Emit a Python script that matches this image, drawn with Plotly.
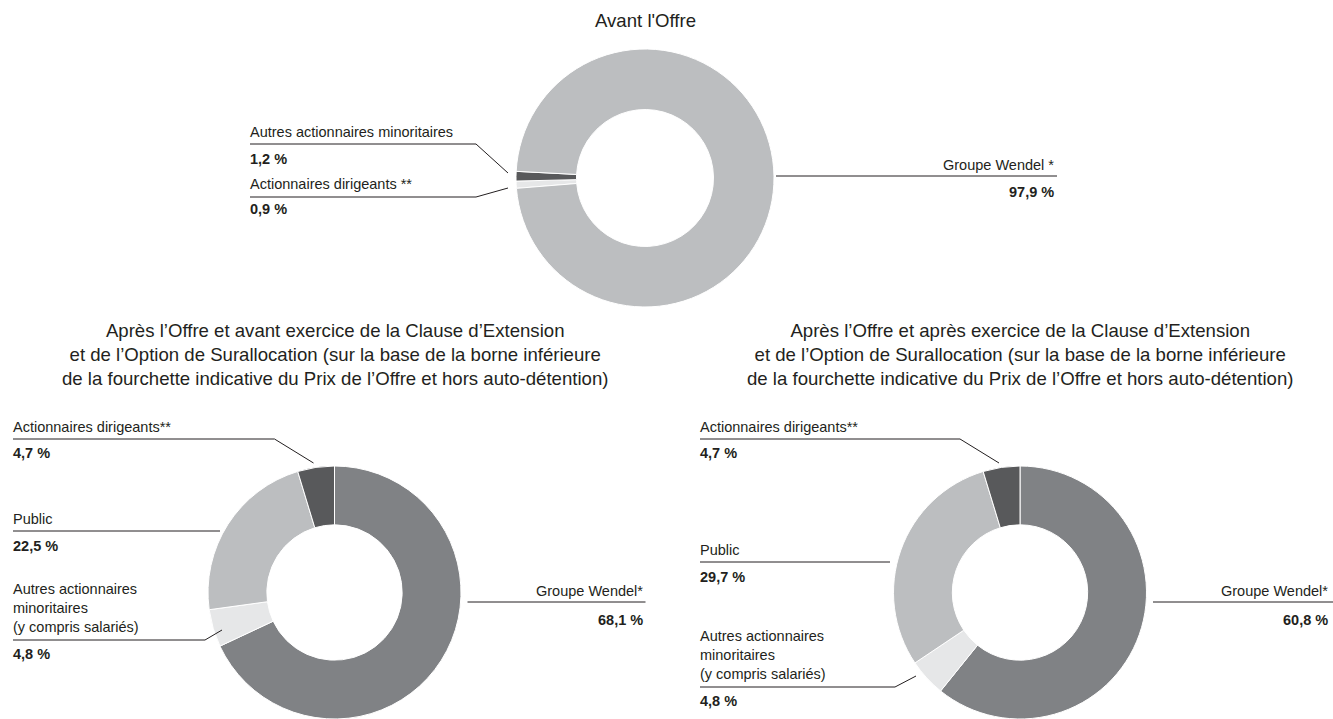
import plotly.graph_objects as go

W, H = 1333, 719

# données
avant_labels = ["Actionnaires dirigeants **", "Autres actionnaires minoritaires", "Groupe Wendel *"]
avant_values = [0.9, 1.2, 97.9]
avant_colors = ["#e6e7e8", "#58595b", "#bcbec0"]

apres_labels = ["Groupe Wendel*", "Autres actionnaires<br>minoritaires<br>(y compris salariés)",
                "Public", "Actionnaires dirigeants**"]
apres_sans_ext_values = [68.1, 4.8, 22.5, 4.7]
apres_avec_ext_values = [60.8, 4.8, 29.7, 4.7]
apres_colors = ["#808285", "#e6e7e8", "#bcbec0", "#58595b"]

titles = [
    "Avant l'Offre",
    "Après l’Offre et avant exercice de la Clause d’Extension<br>"
    "et de l’Option de Surallocation (sur la base de la borne inférieure<br>"
    "de la fourchette indicative du Prix de l’Offre et hors auto-détention)",
    "Après l’Offre et après exercice de la Clause d’Extension<br>"
    "et de l’Option de Surallocation (sur la base de la borne inférieure<br>"
    "de la fourchette indicative du Prix de l’Offre et hors auto-détention)",
]

FONT = "Liberation Sans, Arial, Helvetica, sans-serif"
INK = "#231f20"


# page pixels -> paper coords
def px(x):
    return x / W


def py(y):
    return 1 - y / H


def pct(v):
    return f"{v:.1f}".replace(".", ",") + " %"


fig = go.Figure()

fig.add_trace(go.Pie(
    labels=avant_labels, values=avant_values, sort=False, direction="clockwise",
    rotation=265.4, hole=0.531, textinfo="none", hoverinfo="none",
    marker=dict(colors=avant_colors, line=dict(color="white", width=1)),
    domain=dict(x=[px(645 - 129), px(645 + 129)], y=[py(178 + 129), py(178 - 129)]),
    showlegend=False,
))
fig.add_trace(go.Pie(
    labels=apres_labels, values=apres_sans_ext_values, sort=False, direction="clockwise",
    rotation=0, hole=0.535, textinfo="none", hoverinfo="none",
    marker=dict(colors=apres_colors, line=dict(color="white", width=1)),
    domain=dict(x=[px(334.5 - 126.5), px(334.5 + 126.5)], y=[0, 253 / H]),
    showlegend=False,
))
fig.add_trace(go.Pie(
    labels=apres_labels, values=apres_avec_ext_values, sort=False, direction="clockwise",
    rotation=0, hole=0.535, textinfo="none", hoverinfo="none",
    marker=dict(colors=apres_colors, line=dict(color="white", width=1)),
    domain=dict(x=[px(1020 - 126.5), px(1020 + 126.5)], y=[0, 253 / H]),
    showlegend=False,
))

annotations = []
shapes = []


def label(text, x, y, anchor="left", bold=False, size=14.5):
    annotations.append(dict(
        text=f"<b>{text}</b>" if bold else text, x=px(x), y=py(y),
        xref="paper", yref="paper", xanchor=anchor, yanchor="middle",
        showarrow=False, align=anchor,
        font=dict(family=FONT, size=size, color=INK),
    ))


def leader(points):
    path = "M " + " L ".join(f"{px(x)},{py(y)}" for x, y in points)
    shapes.append(dict(type="path", path=path, xref="paper", yref="paper",
                       line=dict(color=INK, width=1)))


# titres
label(titles[0], 645, 20, "center", size=18.6)
label(titles[1], 335, 355, "center", size=18.6)
label(titles[2], 1020, 355, "center", size=18.6)

# avant l'offre
label(avant_labels[1], 248, 132)
leader([(250, 144), (476, 144), (508, 173)])
label(pct(avant_values[1]), 248, 159, bold=True)
label(avant_labels[0], 248, 184)
leader([(250, 197), (476, 197), (508, 188)])
label(pct(avant_values[0]), 248, 209, bold=True)
label(avant_labels[2], 1056, 165, "right")
leader([(776, 176), (1057, 176)])
label(pct(avant_values[2]), 1056, 192, "right", bold=True)

# après l'offre, deux scénarios
for vals, x0, cx, y_pub, y_aut, x_pub, aut_end in [
    (apres_sans_ext_values, 11, 334.5, 531, 640, 220, (205, 222, 630)),
    (apres_avec_ext_values, 698, 1020, 562, 687, 890, (895, 916, 676)),
]:
    label(apres_labels[3], x0, 427)
    leader([(x0 + 2, 439), (cx - 60, 439), (cx - 21, 463)])
    label(pct(vals[3]), x0, 453, bold=True)

    label(apres_labels[2], x0, y_pub - 12)
    leader([(x0 + 2, y_pub), (x_pub, y_pub)])
    label(pct(vals[2]), x0, y_pub + 15, bold=True)

    label(apres_labels[1], x0, y_aut - 32)
    leader([(x0 + 2, y_aut), (aut_end[0], y_aut), (aut_end[1], aut_end[2])])
    label(pct(vals[1]), x0, y_aut + 14, bold=True)

    xr = cx + 310 if cx < 600 else 1330
    label(apres_labels[0], xr, 591, "right")
    leader([(cx + 133, 602), (W, 602) if cx > 600 else (xr + 1, 602)])
    label(pct(vals[0]), xr, 620, "right", bold=True)

fig.update_layout(
    width=W, height=H,
    margin=dict(l=0, r=0, t=0, b=0),
    paper_bgcolor="white", plot_bgcolor="white",
    annotations=annotations, shapes=shapes,
    font=dict(family=FONT, color=INK),
)

# drop the default body margin so the figure fills the window exactly
fig.write_html("out.html", config={"displayModeBar": False},
               post_script="document.body.style.margin='0';document.body.style.overflow='hidden';")
